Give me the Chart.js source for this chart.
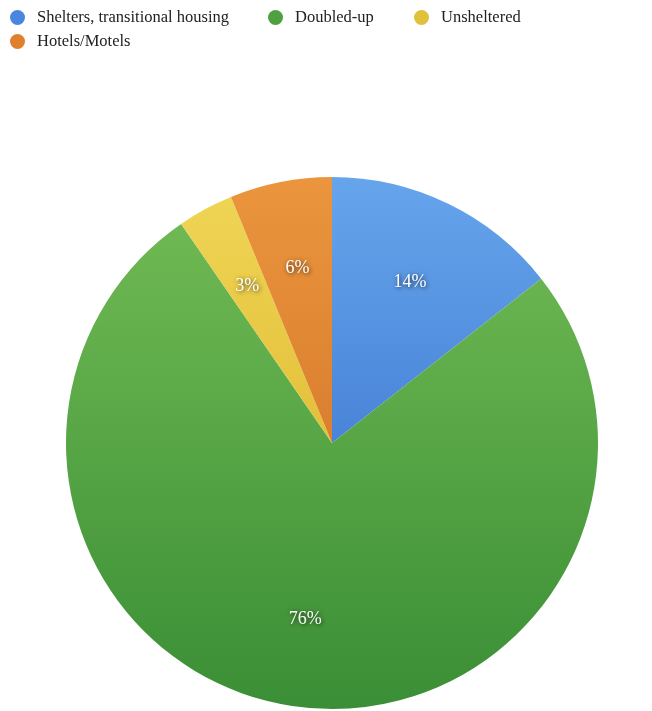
<!DOCTYPE html>
<html>
<head>
<meta charset="utf-8">
<script src="https://cdn.jsdelivr.net/npm/chart.js@4/dist/chart.umd.min.js"></script>
<style>
    html, body { margin: 0; padding: 0; background: #fff; }
    #wrap { position: relative; width: 652px; height: 711px; }
    #pieChart { position: absolute; left: 0; top: 0; }
    .legend { position: absolute; left: 0; top: 0; width: 652px; font-family: 'Liberation Serif', serif; font-size: 16.5px; color: #222; }
    .legend-item { position: absolute; display: flex; align-items: center; white-space: nowrap; }
    .legend-item .dot { width: 15px; height: 15px; border-radius: 50%; margin-right: 12px; }
</style>
</head>
<body>
<div id="wrap">
    <canvas id="pieChart" width="652" height="711"></canvas>
    <div class="legend" id="legend"></div>
</div>
<script>
const categories = ['Shelters, transitional housing', 'Doubled-up', 'Unsheltered', 'Hotels/Motels'];
const shares = [14.4, 76.0, 3.4, 6.2];
const shareLabels = ['14%', '76%', '3%', '6%'];
const lightColors = ['#66a5ec', '#74bd56', '#f0d656', '#eb953e'];
const darkColors = ['#2c62c4', '#3a8e35', '#d6a91e', '#c8681e'];
const legendColors = ['#4a86e0', '#4fa03f', '#e0c13a', '#e0802c'];

// legend (positions as in the source image)
const legendSpots = [[10, 7], [268, 7], [414, 7], [10, 31]];
document.getElementById('legend').innerHTML = categories.map((c, i) => `
    <div class="legend-item" style="left:${legendSpots[i][0]}px; top:${legendSpots[i][1]}px;">
        <span class="dot" style="background:${legendColors[i]}"></span>${c}
    </div>
`).join('');

function sliceFill(ctx) {
    const area = ctx.chart.chartArea;
    const i = ctx.dataIndex;
    if (!area) return lightColors[i];
    const g = ctx.chart.ctx.createLinearGradient(0, area.top, 0, area.bottom);
    g.addColorStop(0, lightColors[i]);
    g.addColorStop(1, darkColors[i]);
    return g;
}

const sliceLabels = {
    id: 'sliceLabels',
    afterDatasetsDraw(chart) {
        const c = chart.ctx;
        const meta = chart.getDatasetMeta(0);
        c.save();
        c.font = "18px 'Liberation Serif', serif";
        c.textAlign = 'center';
        c.textBaseline = 'middle';
        c.fillStyle = '#ffffff';
        c.shadowColor = 'rgba(0,0,0,0.75)';
        c.shadowBlur = 4;
        c.shadowOffsetX = 1;
        c.shadowOffsetY = 1;
        meta.data.forEach((arc, i) => {
            const mid = (arc.startAngle + arc.endAngle) / 2;
            const r = arc.outerRadius * 0.67;
            c.fillText(shareLabels[i], arc.x + Math.cos(mid) * r, arc.y + Math.sin(mid) * r);
        });
        c.restore();
    }
};

new Chart(document.getElementById('pieChart').getContext('2d'), {
    type: 'pie',
    data: {
        labels: categories,
        datasets: [{
            data: shares,
            backgroundColor: sliceFill,
            borderWidth: 0
        }]
    },
    options: {
        responsive: false,
        animation: false,
        layout: { padding: { top: 177, bottom: 2, left: 66, right: 54 } },
        plugins: {
            legend: { display: false },
            tooltip: { enabled: false }
        }
    },
    plugins: [sliceLabels]
});
</script>
</body>
</html>
